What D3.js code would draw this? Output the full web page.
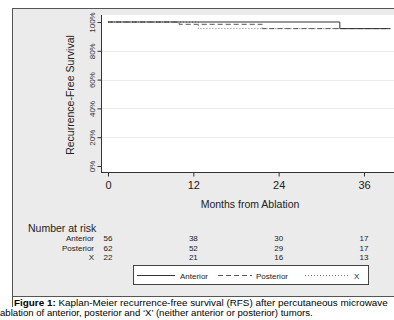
<!DOCTYPE html>
<html>
<head>
<meta charset="utf-8">
<script src="https://cdn.jsdelivr.net/npm/d3@7"></script>
<style>
  body { margin: 0; background: #fff; }
  svg { display: block; font-family: "Liberation Sans", Arial, sans-serif; }
</style>
</head>
<body>
<div id="chart"></div>
<script>
// data
var groups = ["Anterior", "Posterior", "X"];
var anteriorMonths = [0, 32.6, 39.7];
var anteriorSurv   = [1, 0.954, 0.954];
var posteriorMonths = [0, 10.0, 21.7, 39.7];
var posteriorSurv   = [1, 0.984, 0.954, 0.954];
var xMonths = [0, 12.7, 38];
var xSurv   = [1, 0.954, 0.954];
var monthTicks = [0, 12, 24, 36];
var survTicks = [0, 0.2, 0.4, 0.6, 0.8, 1];
var riskAnterior = [56, 38, 30, 17];
var riskPosterior = [62, 52, 29, 17];
var riskX = [22, 21, 16, 13];

(function(){
    var width = 394,
        height = 320;

    var svg = d3.select("#chart")
        .append("svg")
        .attr("width", width)
        .attr("height", height);

    var x = d3.scaleLinear().domain([0, 36]).range([108, 364]);
    var y = d3.scaleLinear().domain([0, 1]).range([166, 22]);

    // outer grey frame
    svg.append("rect")
        .attr("x", 12.5).attr("y", 8.5)
        .attr("width", 400).attr("height", 288)
        .attr("fill", "#ebebeb")
        .attr("stroke", "#555");
    svg.append("line")
        .attr("x1", 12.5).attr("x2", 12.5)
        .attr("y1", 296).attr("y2", 307)
        .attr("stroke", "#555");

    // plot region
    svg.append("rect")
        .attr("x", 101).attr("y", 15)
        .attr("width", 300).attr("height", 157)
        .attr("fill", "#fff");

    // grid
    svg.append("g")
        .selectAll("line")
        .data(survTicks.filter(function(d){ return d > 0 && d < 1; }))
        .enter().append("line")
        .attr("x1", 102).attr("x2", 394)
        .attr("y1", function(d){ return Math.round(y(d)) + 0.5; })
        .attr("y2", function(d){ return Math.round(y(d)) + 0.5; })
        .attr("stroke", "#eaeaea");

    // y axis
    var yAxis = svg.append("g")
        .attr("transform", "translate(101.5,0)")
        .call(d3.axisLeft(y).tickValues(survTicks).tickSize(4)
            .tickFormat(function(d){ return Math.round(d * 100) + "%"; }));
    yAxis.select(".domain").attr("d", "M0,15V172").attr("stroke", "#333");
    yAxis.selectAll(".tick line").attr("stroke", "#333");
    yAxis.selectAll(".tick text")
        .attr("x", null).attr("dy", null)
        .attr("transform", "translate(-7,0) rotate(-90)")
        .attr("text-anchor", "middle")
        .attr("font-size", 8)
        .attr("fill", "#333")
        .attr("font-family", null);

    // x axis
    var xAxis = svg.append("g")
        .attr("transform", "translate(0,172.5)")
        .call(d3.axisBottom(x).tickValues(monthTicks).tickSize(4).tickSizeOuter(0));
    xAxis.select(".domain").attr("d", "M101,0H394").attr("stroke", "#333");
    xAxis.selectAll(".tick line").attr("stroke", "#333");
    xAxis.selectAll(".tick text")
        .attr("y", 9)
        .attr("font-size", 11)
        .attr("fill", "#222")
        .attr("font-family", null);

    // axis titles
    svg.append("text")
        .attr("transform", "translate(74,95) rotate(-90)")
        .attr("text-anchor", "middle")
        .attr("font-size", 10.5)
        .attr("fill", "#222")
        .text("Recurrence-Free Survival");

    svg.append("text")
        .attr("x", 250).attr("y", 208)
        .attr("text-anchor", "middle")
        .attr("font-size", 10.5)
        .attr("fill", "#222")
        .text("Months from Ablation");

    // survival curves
    var curves = [
        { name: groups[0], t: anteriorMonths, s: anteriorSurv, dash: null, color: "#333" },
        { name: groups[1], t: posteriorMonths, s: posteriorSurv, dash: "5,3", color: "#555" },
        { name: groups[2], t: xMonths, s: xSurv, dash: "1,2", color: "#777" }
    ];

    var line = d3.line()
        .x(function(d){ return x(d[0]); })
        .y(function(d){ return y(d[1]); })
        .curve(d3.curveStepAfter);

    svg.selectAll(".km")
        .data(curves.slice().reverse())
        .enter().append("path")
        .attr("class", "km")
        .attr("d", function(d){ return line(d3.zip(d.t, d.s)); })
        .attr("fill", "none")
        .attr("stroke", function(d){ return d.color; })
        .attr("stroke-width", 1)
        .attr("stroke-dasharray", function(d){ return d.dash; });

    // number at risk table
    svg.append("text")
        .attr("x", 28).attr("y", 232)
        .attr("font-size", 10.5)
        .attr("fill", "#222")
        .text("Number at risk");

    var rows = [riskAnterior, riskPosterior, riskX];
    var rowY = [241, 250.5, 260];

    rows.forEach(function(r, i){
        svg.append("text")
            .attr("x", 94).attr("y", rowY[i])
            .attr("text-anchor", "end")
            .attr("font-size", 8)
            .attr("fill", "#222")
            .text(groups[i]);
        svg.selectAll(".risk" + i)
            .data(r)
            .enter().append("text")
            .attr("class", "risk" + i)
            .attr("x", function(d, j){ return x(monthTicks[j]); })
            .attr("y", rowY[i])
            .attr("text-anchor", "middle")
            .attr("font-size", 8)
            .attr("fill", "#222")
            .text(function(d){ return d; });
    });

    // legend
    svg.append("rect")
        .attr("x", 133.5).attr("y", 265.5)
        .attr("width", 235).attr("height", 19)
        .attr("fill", "#fff")
        .attr("stroke", "#444");

    var legendItems = [
        { x1: 137, x2: 175, tx: 180 },
        { x1: 218, x2: 252, tx: 256 },
        { x1: 305, x2: 348, tx: 354 }
    ];

    legendItems.forEach(function(l, i){
        svg.append("line")
            .attr("x1", l.x1).attr("x2", l.x2)
            .attr("y1", 275.5).attr("y2", 275.5)
            .attr("stroke", curves[i].color)
            .attr("stroke-dasharray", curves[i].dash);
        svg.append("text")
            .attr("x", l.tx).attr("y", 278.5)
            .attr("font-size", 8)
            .attr("fill", "#222")
            .text(groups[i]);
    });

    // caption
    var cap = svg.append("text")
        .attr("x", 14).attr("y", 306)
        .attr("font-size", 9.9)
        .attr("fill", "#000");
    cap.append("tspan").attr("font-weight", "bold").text("Figure 1:");
    cap.append("tspan").text(" Kaplan-Meier recurrence-free survival (RFS) after percutaneous microwave");

    svg.append("text")
        .attr("x", 0).attr("y", 316)
        .attr("font-size", 9.6)
        .attr("fill", "#000")
        .text("ablation of anterior, posterior and \u2018X\u2019 (neither anterior or posterior) tumors.");
})();
</script>
</body>
</html>
